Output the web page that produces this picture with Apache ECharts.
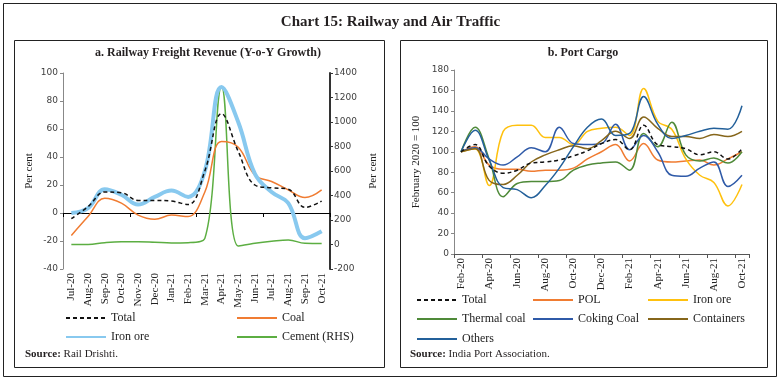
<!DOCTYPE html>
<html><head><meta charset="utf-8">
<script src="https://cdn.jsdelivr.net/npm/echarts/dist/echarts.min.js"></script>
<style>html,body{margin:0;padding:0;background:#fff}#c{width:781px;height:381px}</style>
</head><body><div id="c"></div>
<script>
// ---- Panel a: Railway freight revenue (Y-o-Y growth, per cent) ----
const railMonths = ['Jul-20','Aug-20','Sep-20','Oct-20','Nov-20','Dec-20','Jan-21','Feb-21','Mar-21','Apr-21','May-21','Jun-21','Jul-21','Aug-21','Sep-21','Oct-21'];
const railTotal   = [-4, 4.5, 15, 14.5, 9, 9, 8.5, 6, 30, 71, 44, 20, 18, 17, 4, 8.5];
const railCoal    = [-16, -2.5, 10.5, 7, -1.5, -4.5, -1.5, -2.5, 15, 51, 47, 27, 22.5, 16.5, 11, 16.5];
const railIronOre = [0, 3.5, 17, 13, 6, 11.5, 16, 11.5, 30, 90, 65, 28, 15, 7, -18, -13];
const railCement  = [0, 0, 15, 22, 22, 18, 13, 15, 50, 1290, -12, 10, 26, 37, 10, 8];

// ---- Panel b: Port cargo (February 2020 = 100) ----
const portMonths = ['Feb-20','Mar-20','Apr-20','May-20','Jun-20','Jul-20','Aug-20','Sep-20','Oct-20','Nov-20','Dec-20','Jan-21','Feb-21','Mar-21','Apr-21','May-21','Jun-21','Jul-21','Aug-21','Sep-21','Oct-21'];
const portTotal      = [100, 107, 86, 79, 82, 89, 90, 92, 96, 101, 108, 112, 102, 126, 107, 105, 103, 97, 100, 93, 103];
const portPOL        = [100, 105, 87, 83, 83, 81, 82, 82, 84, 93, 100, 107, 91, 108, 92, 90, 91, 92, 87, 93, 100];
const portIronOre    = [100, 103, 67, 120, 126, 126, 114, 114, 107, 120, 123, 124, 116, 162, 130, 122, 93, 77, 70, 47, 68];
const portThermal    = [100, 124, 93, 56, 69, 71, 71, 72, 82, 87, 89, 90, 82, 118, 105, 129, 97, 91, 94, 89, 100];
const portCoking     = [100, 104, 93, 87, 95, 104, 100, 124, 108, 107, 108, 127, 102, 116, 100, 77, 76, 84, 90, 66, 77];
const portContainers = [100, 103, 72, 68, 77, 90, 97, 102, 106, 103, 111, 120, 113, 134, 123, 115, 115, 113, 117, 115, 120];
const portOthers     = [100, 121, 92, 65, 63, 55, 67, 84, 105, 124, 132, 116, 118, 154, 127, 113, 116, 120, 123, 122, 145];

const SERIF = 'Liberation Serif';
const SANS = 'DejaVu Sans';
const numLabel = {fontFamily: SANS, fontSize: 9, color: '#404040', formatter: v => String(v)};
const dateLabel = {fontFamily: SERIF, fontSize: 11, color: '#222', rotate: 90, margin: 4};

function line(name, data, color, width, xi, yi, dash) {
  return {
    type: 'line', name, data, xAxisIndex: xi, yAxisIndex: yi,
    symbol: 'none', smooth: 0.4,
    lineStyle: {color, width, type: dash ? [4, 3] : 'solid'},
    itemStyle: {color}
  };
}
function leg(name, left, top) {
  return {
    data: [name], left, top, itemWidth: 40, itemHeight: 10, selectedMode: false,
    itemStyle: {opacity: 0},
    textStyle: {fontFamily: SERIF, fontSize: 12, color: '#222'}, padding: 0
  };
}

const chart = echarts.init(document.getElementById('c'), null, {renderer: 'canvas'});
chart.setOption({
  animation: false,
  backgroundColor: '#fff',
  graphic: [
    {type: 'rect', shape: {x: 3.5, y: 3.5, width: 773, height: 373}, style: {fill: 'none', stroke: '#222', lineWidth: 1}},
    {type: 'rect', shape: {x: 14.5, y: 40.5, width: 370, height: 327}, style: {fill: 'none', stroke: '#222', lineWidth: 1}},
    {type: 'rect', shape: {x: 400.5, y: 40.5, width: 367, height: 327}, style: {fill: 'none', stroke: '#222', lineWidth: 1}},
    {type: 'text', left: 'center', top: 15, style: {text: 'Chart 15: Railway and Air Traffic', font: 'bold 15px "Liberation Serif"', fill: '#231f20'}},
    {type: 'text', x: 208, y: 47, style: {text: 'a. Railway Freight Revenue (Y-o-Y Growth)', font: 'bold 12px "Liberation Serif"', fill: '#231f20', align: 'center'}},
    {type: 'text', x: 583, y: 47, style: {text: 'b. Port Cargo', font: 'bold 12px "Liberation Serif"', fill: '#231f20', align: 'center'}},
    {type: 'text', x: 25, y: 349, style: {text: '{b|Source:} Rail Drishti.', font: '11px "Liberation Serif"', fill: '#231f20', rich: {b: {fontWeight: 'bold', fontFamily: SERIF, fontSize: 11}}}},
    {type: 'text', x: 410, y: 349, style: {text: '{b|Source:} India Port Association.', font: '11px "Liberation Serif"', fill: '#231f20', rich: {b: {fontWeight: 'bold', fontFamily: SERIF, fontSize: 11}}}}
  ],
  grid: [
    {left: 63, top: 73, width: 267, height: 196},
    {left: 454, top: 70, width: 295, height: 184}
  ],
  xAxis: [
    {gridIndex: 0, type: 'category', data: railMonths, boundaryGap: true,
     axisLine: {onZero: true, lineStyle: {color: '#000', width: 1}},
     axisTick: {show: true, length: 4, lineStyle: {color: '#000'}}, axisLabel: {show: false}},
    {gridIndex: 0, type: 'category', data: railMonths, boundaryGap: true, position: 'bottom',
     axisLine: {show: false, onZero: false}, axisTick: {show: false}, axisLabel: dateLabel},
    {gridIndex: 1, type: 'category', data: portMonths, boundaryGap: true,
     axisLine: {lineStyle: {color: '#555'}},
     axisTick: {show: true, length: 4, interval: 1, lineStyle: {color: '#555'}},
     axisLabel: Object.assign({interval: 1}, dateLabel)}
  ],
  yAxis: [
    {gridIndex: 0, type: 'value', min: -40, max: 100, interval: 20,
     name: 'Per cent', nameLocation: 'middle', nameGap: 28, nameRotate: 90,
     nameTextStyle: {fontFamily: SERIF, fontSize: 11, color: '#222'},
     axisLine: {show: true, lineStyle: {color: '#888'}}, axisTick: {show: true, length: 3, lineStyle: {color: '#888'}},
     splitLine: {show: false}, axisLabel: Object.assign({margin: 5}, numLabel)},
    {gridIndex: 0, type: 'value', min: -200, max: 1400, interval: 200, position: 'right',
     name: 'Per cent', nameLocation: 'middle', nameGap: 38, nameRotate: 90,
     nameTextStyle: {fontFamily: SERIF, fontSize: 11, color: '#222'},
     axisLine: {show: true, lineStyle: {color: '#333', width: 2}}, axisTick: {show: true, length: 3, lineStyle: {color: '#333'}},
     splitLine: {show: false}, axisLabel: Object.assign({margin: 4}, numLabel)},
    {gridIndex: 1, type: 'value', min: 0, max: 180, interval: 20,
     name: 'February 2020 = 100', nameLocation: 'middle', nameGap: 32, nameRotate: 90,
     nameTextStyle: {fontFamily: SERIF, fontSize: 11, color: '#222'},
     axisLine: {show: true, lineStyle: {color: '#888'}}, axisTick: {show: true, length: 3, lineStyle: {color: '#888'}},
     splitLine: {show: false}, axisLabel: Object.assign({margin: 5}, numLabel)}
  ],
  legend: [
    leg('Total', 65, 312), leg('Coal', 236, 312), leg('Iron ore', 65, 331), leg('Cement (RHS)', 236, 331),
    leg('Total ', 416, 294), leg('POL', 532, 294), leg('Iron ore ', 647, 294),
    leg('Thermal coal', 416, 313), leg('Coking Coal', 532, 313), leg('Containers', 647, 313),
    leg('Others', 416, 333)
  ],
  series: [
    line('Cement (RHS)', railCement, '#5cae42', 1.5, 0, 1),
    line('Coal', railCoal, '#f07c32', 1.5, 0, 0),
    line('Iron ore', railIronOre, '#88c9ef', 4, 0, 0),
    line('Total', railTotal, '#111', 1.5, 0, 0, true),
    line('POL', portPOL, '#f07c32', 1.5, 2, 2),
    line('Iron ore ', portIronOre, '#ffc10e', 1.5, 2, 2),
    line('Thermal coal', portThermal, '#4f8a39', 1.5, 2, 2),
    line('Coking Coal', portCoking, '#2f5aa8', 1.5, 2, 2),
    line('Containers', portContainers, '#86661b', 1.5, 2, 2),
    line('Others', portOthers, '#23609a', 1.5, 2, 2),
    line('Total ', portTotal, '#111', 1.5, 2, 2, true)
  ]
});
</script></body></html>
